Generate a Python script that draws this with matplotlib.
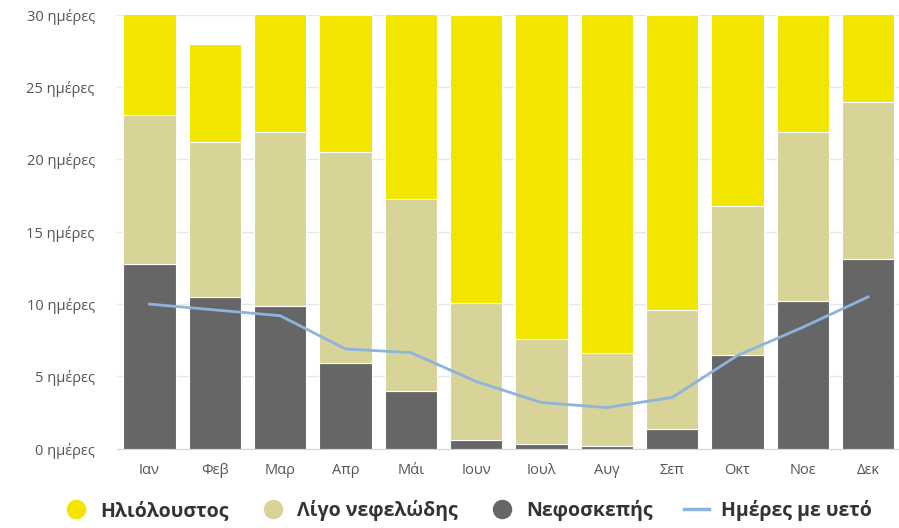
import numpy as np
from matplotlib import pyplot as plt
from matplotlib.lines import Line2D

plt.rcParams['font.family'] = ['Open Sans', 'DejaVu Sans']

months = ["Ιαν", "Φεβ", "Μαρ", "Απρ", "Μάι", "Ιουν", "Ιουλ", "Αυγ", "Σεπ", "Οκτ", "Νοε", "Δεκ"]
overcast = [12.8, 10.5, 9.9, 5.9, 4.0, 0.6, 0.35, 0.2, 1.35, 6.5, 10.2, 13.1]
partly_cloudy = [10.3, 10.7, 12.0, 14.6, 13.3, 9.5, 7.25, 6.4, 8.25, 10.3, 11.7, 10.9]
sunny = [7.9, 6.8, 9.1, 9.5, 13.7, 19.9, 23.4, 24.4, 20.4, 14.2, 8.1, 7.0]
rain_days = [10.0, 9.6, 9.2, 6.9, 6.65, 4.65, 3.2, 2.85, 3.55, 6.45, 8.4, 10.5]

c_sunny = "#f2e600"
c_partly = "#d8d396"
c_overcast = "#666666"
c_rain = "#8cb4de"

fig = plt.figure(figsize=(8.99, 5.28), dpi=100)
ax = fig.add_axes([0.130, 0.150, 0.872, 0.822])

x = np.arange(len(months))
w = 0.8
b1 = np.array(overcast)
b2 = b1 + np.array(partly_cloudy)
ax.bar(x, overcast, w, color=c_overcast, edgecolor="white", linewidth=0.8, zorder=2)
ax.bar(x, partly_cloudy, w, bottom=b1, color=c_partly, edgecolor="white", linewidth=0.8, zorder=2)
ax.bar(x, sunny, w, bottom=b2, color=c_sunny, edgecolor="white", linewidth=0.8, zorder=2)
ax.plot(x, rain_days, color=c_rain, linewidth=2.0, zorder=3)

ax.set_xlim(-0.5, 11.5)
ax.set_ylim(0, 30)
ax.set_yticks(range(0, 31, 5))
ax.set_yticklabels([f"{v} ημέρες" for v in range(0, 31, 5)])
ax.set_xticks(x)
ax.set_xticklabels(months)
ax.tick_params(axis="both", length=0, colors="#555555", labelsize=10.5)
ax.tick_params(axis="y", pad=16)
ax.tick_params(axis="x", pad=10)
ax.grid(axis="y", color="#e6e6e6", linewidth=1, zorder=0)
for s in ["top", "right", "left"]:
    ax.spines[s].set_visible(False)
ax.spines["bottom"].set_color("#ccd6eb")

handles = [
    Line2D([], [], marker="o", linestyle="", markersize=13, color=c_sunny),
    Line2D([], [], marker="o", linestyle="", markersize=13, color=c_partly),
    Line2D([], [], marker="o", linestyle="", markersize=13, color=c_overcast),
    Line2D([], [], color=c_rain, linewidth=2.5),
]
labels = ["Ηλιόλουστος", "Λίγο νεφελώδης", "Νεφοσκεπής", "Ημέρες με υετό"]
leg = fig.legend(handles, labels, loc="lower center", bbox_to_anchor=(0.52, -0.02), ncol=4,
                 frameon=False, handlelength=1.3, columnspacing=1.6, handletextpad=0.6,
                 prop={"weight": "bold", "size": 14})
for t in leg.get_texts():
    t.set_color("#333333")

fig.savefig("out.png", dpi=100)
